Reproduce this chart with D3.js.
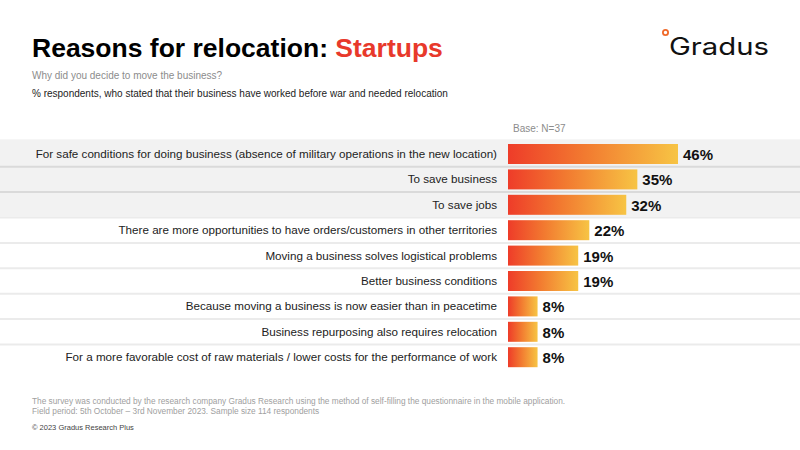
<!DOCTYPE html>
<html>
<head>
<meta charset="utf-8">
<script src="https://cdn.jsdelivr.net/npm/d3@7"></script>
<style>
  body { margin: 0; background: #fff; }
  svg { display: block; font-family: "Liberation Sans", Arial, sans-serif; }
</style>
</head>
<body>
<svg id="chart" width="800" height="450"></svg>
<script>
const categories = [
  "For safe conditions for doing business (absence of military operations in the new location)",
  "To save business",
  "To save jobs",
  "There are more opportunities to have orders/customers in other territories",
  "Moving a business solves logistical problems",
  "Better business conditions",
  "Because moving a business is now easier than in peacetime",
  "Business repurposing also requires relocation",
  "For a more favorable cost of raw materials / lower costs for the performance of work"
];
const values = [46, 35, 32, 22, 19, 19, 8, 8, 8];
const highlighted = 3; // first rows on grey background

const BAR_LEFT = 508;
const BAR_HEIGHT = 20;
const RED = "#e8392b";

const svg = d3.select("#chart");

// gradient red -> yellow, per bar
const defs = svg.append("defs");
const gradient = defs.append("linearGradient").attr("id", "bar-gradient");
gradient.append("stop").attr("offset", "0%").attr("stop-color", "#ee3c29");
gradient.append("stop").attr("offset", "45%").attr("stop-color", "#f27a30");
gradient.append("stop").attr("offset", "100%").attr("stop-color", "#f7c444");

const y = d3.scaleBand()
  .domain(categories)
  .range([141.3, 369.9])
  .paddingInner(0);

const x = d3.scaleLinear()
  .domain([0, 46])
  .range([BAR_LEFT, 678]);

// grey background for top rows
svg.append("rect")
  .attr("x", 0)
  .attr("y", y(categories[0]) - 2)
  .attr("width", 800)
  .attr("height", y(categories[highlighted]) - y(categories[0]) + 1)
  .attr("fill", "#f2f2f2");

// row separators
svg.selectAll(".sep")
  .data(categories.slice(0, -1))
  .enter()
  .append("line")
  .attr("class", "sep")
  .attr("x1", 0)
  .attr("x2", 800)
  .attr("y1", (d) => y(d) + y.bandwidth())
  .attr("y2", (d) => y(d) + y.bandwidth())
  .attr("stroke", (d, i) => (i < highlighted - 1 ? "#dadada" : "#ebebeb"))
  .attr("stroke-width", 2);

// bars
svg.selectAll(".bar")
  .data(values)
  .enter()
  .append("rect")
  .attr("class", "bar")
  .attr("x", x(0))
  .attr("y", (d, i) => y(categories[i]) + (y.bandwidth() - BAR_HEIGHT) / 2)
  .attr("width", (d) => x(d) - x(0))
  .attr("height", BAR_HEIGHT)
  .attr("fill", "url(#bar-gradient)");

// category labels
svg.selectAll(".cat")
  .data(categories)
  .enter()
  .append("text")
  .attr("class", "cat")
  .attr("x", 497)
  .attr("y", (d) => y(d) + y.bandwidth() / 2 + 4)
  .attr("text-anchor", "end")
  .attr("font-size", "11.65px")
  .attr("fill", "#222")
  .text((d) => d);

// value labels
svg.selectAll(".val")
  .data(values)
  .enter()
  .append("text")
  .attr("class", "val")
  .attr("x", (d) => x(d) + 5)
  .attr("y", (d, i) => y(categories[i]) + y.bandwidth() / 2 + 6)
  .attr("font-size", "15px")
  .attr("font-weight", "bold")
  .attr("fill", "#111")
  .text((d) => d + "%");

// title
const title = svg.append("text")
  .attr("x", 32)
  .attr("y", 57)
  .attr("font-size", "26.5px")
  .attr("font-weight", "bold")
  .attr("fill", "#000");
title.append("tspan").text("Reasons for relocation: ");
title.append("tspan").attr("fill", RED).text("Startups");

svg.append("text")
  .attr("x", 32)
  .attr("y", 79)
  .attr("font-size", "10px")
  .attr("fill", "#8c8c8c")
  .text("Why did you decide to move the business?");

svg.append("text")
  .attr("x", 32)
  .attr("y", 97)
  .attr("font-size", "10px")
  .attr("fill", "#222")
  .text("% respondents, who stated that their business have worked before war and needed relocation");

svg.append("text")
  .attr("x", 513)
  .attr("y", 132)
  .attr("font-size", "10px")
  .attr("fill", "#8c8c8c")
  .text("Base: N=37");

// logo
svg.append("circle")
  .attr("cx", 665.5)
  .attr("cy", 32.5)
  .attr("r", 2.6)
  .attr("fill", "none")
  .attr("stroke", "#f06a2a")
  .attr("stroke-width", 1.8);
svg.append("text")
  .attr("x", 669)
  .attr("y", 55)
  .attr("font-family", "Inter, 'Noto Sans', sans-serif")
  .attr("font-size", "24px")
  .attr("fill", "#111")
  .attr("textLength", 100)
  .attr("lengthAdjust", "spacingAndGlyphs")
  .text("Gradus");

// footer
const footer = [
  "The survey was conducted by the research company Gradus Research using the method of self-filling the questionnaire in the mobile application.",
  "Field period: 5th October \u2013 3rd November 2023. Sample size 114 respondents"
];
svg.selectAll(".foot")
  .data(footer)
  .enter()
  .append("text")
  .attr("class", "foot")
  .attr("x", 32)
  .attr("y", (d, i) => 403.5 + i * 10)
  .attr("font-size", "8.3px")
  .attr("fill", "#a0a0a0")
  .text((d) => d);

svg.append("text")
  .attr("x", 32)
  .attr("y", 430)
  .attr("font-size", "7.5px")
  .attr("fill", "#444")
  .text("\u00a9 2023 Gradus Research Plus");
</script>
</body>
</html>
